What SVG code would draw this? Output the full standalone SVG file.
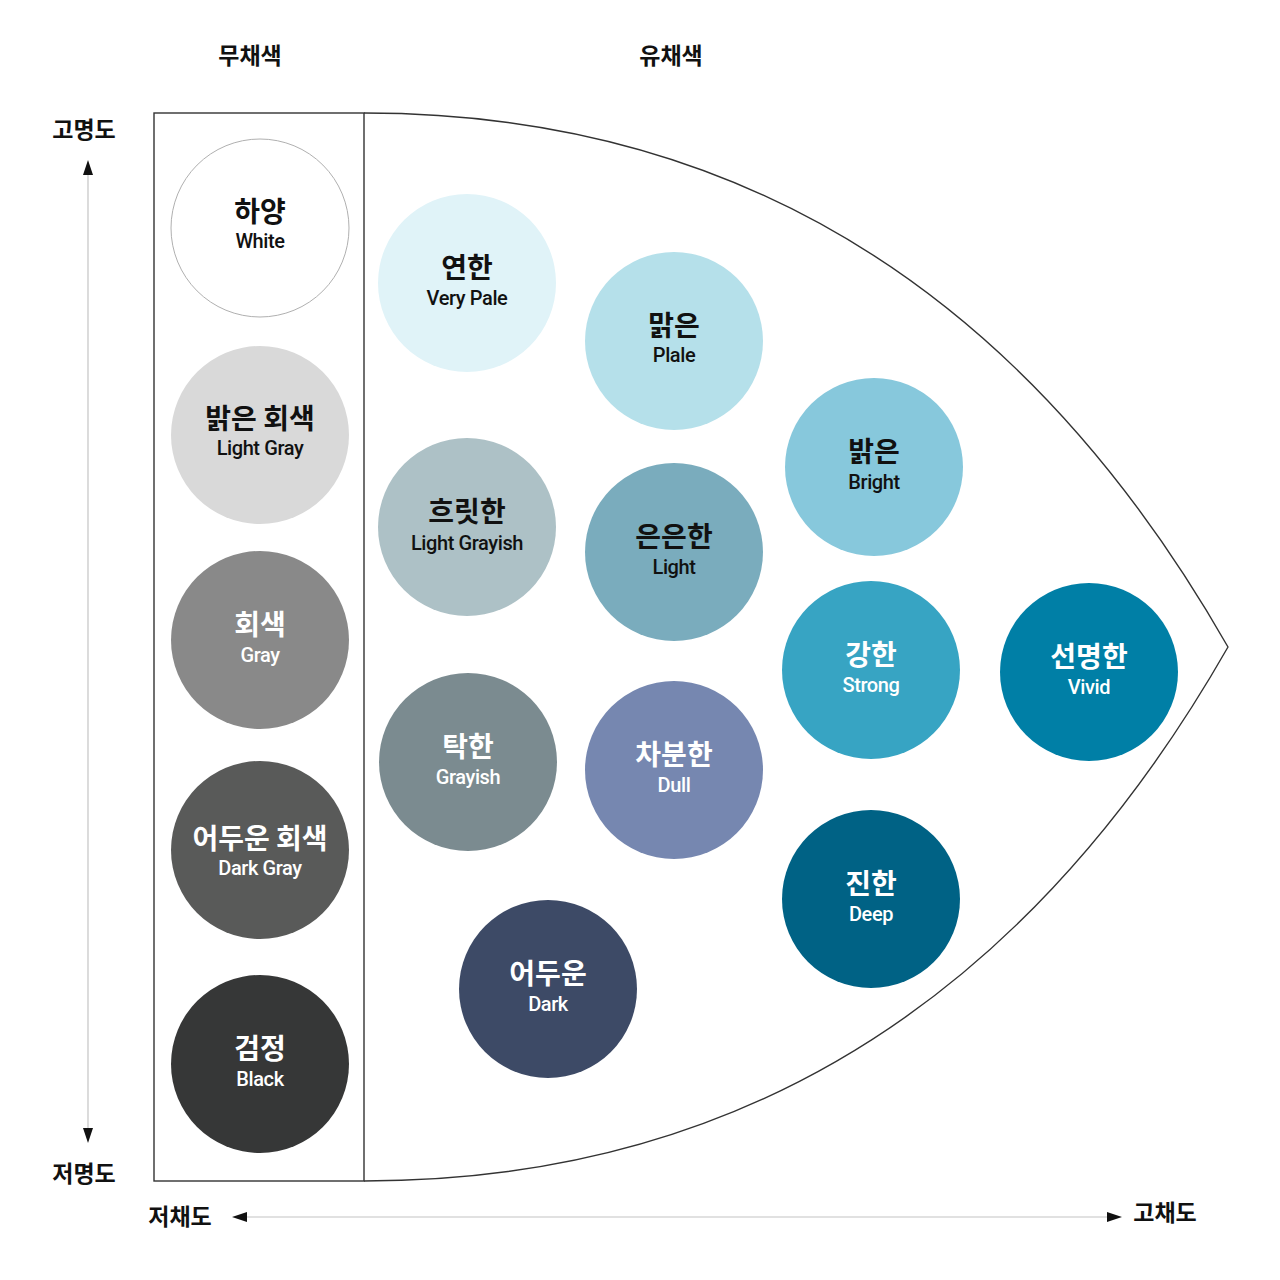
<svg xmlns="http://www.w3.org/2000/svg" width="1280" height="1280" viewBox="0 0 1280 1280">
<style>
.ko{font-family:"Noto Sans CJK KR","Noto Sans",sans-serif;font-weight:700;font-size:28px;text-anchor:middle}
.en{font-family:"Roboto","Noto Sans",sans-serif;font-weight:500;font-size:20px;letter-spacing:-0.4px;text-anchor:middle}
.lab{font-family:"Noto Sans CJK KR","Noto Sans",sans-serif;font-weight:700;font-size:23px;text-anchor:middle;fill:#111}
.dk{fill:#111}
.wh{fill:#fff}
.axis{stroke:#c4c4c4;stroke-width:1.2;fill:none}
</style>
<rect width="1280" height="1280" fill="#fff"/>
<g id="frame" fill="none" stroke="#333" stroke-width="1.4">
<rect x="154" y="113" width="210" height="1068"/>
<path d="M364,113 Q923,113 1228,647 Q923,1181 364,1181"/>
</g>
<g id="labels">
<text class="lab" x="250" y="64">무채색</text>
<text class="lab" x="671" y="64">유채색</text>
<text class="lab" x="84" y="138">고명도</text>
<text class="lab" x="84" y="1182">저명도</text>
<text class="lab" x="180" y="1225">저채도</text>
<text class="lab" x="1165" y="1221">고채도</text>
</g>
<g id="connectors">
<line class="axis" x1="88" y1="175" x2="88" y2="1130"/>
<path d="M88,160 L93,175 L83,175 z" fill="#111"/>
<path d="M88,1143 L93,1128 L83,1128 z" fill="#111"/>
<line class="axis" x1="246" y1="1217" x2="1108" y2="1217"/>
<path d="M232,1217 L247,1212 L247,1222 z" fill="#111"/>
<path d="M1122,1217 L1107,1212 L1107,1222 z" fill="#111"/>
</g>
<g id="white"><circle cx="260" cy="228" r="89" fill="#fff" stroke="#b0b0b0" stroke-width="1"/><text class="ko dk" x="260" y="222">하양</text><text class="en dk" x="260" y="248">White</text></g>
<g id="lightgray"><circle cx="260" cy="435" r="89" fill="#d9d9d9"/><text class="ko dk" x="260" y="429">밝은 회색</text><text class="en dk" x="260" y="455">Light Gray</text></g>
<g id="gray"><circle cx="260" cy="640" r="89" fill="#898989"/><text class="ko wh" x="260" y="635">회색</text><text class="en wh" x="260" y="662">Gray</text></g>
<g id="darkgray"><circle cx="260" cy="850" r="89" fill="#595a59"/><text class="ko wh" x="260" y="849">어두운 회색</text><text class="en wh" x="260" y="875">Dark Gray</text></g>
<g id="black"><circle cx="260" cy="1064" r="89" fill="#363737"/><text class="ko wh" x="260" y="1059">검정</text><text class="en wh" x="260" y="1086">Black</text></g>
<g id="verypale"><circle cx="467" cy="283" r="89" fill="#e0f3f8"/><text class="ko dk" x="467" y="278">연한</text><text class="en dk" x="467" y="305">Very Pale</text></g>
<g id="pale"><circle cx="674" cy="341" r="89" fill="#b5e0ea"/><text class="ko dk" x="674" y="336">맑은</text><text class="en dk" x="674" y="362">Plale</text></g>
<g id="bright"><circle cx="874" cy="467" r="89" fill="#87c8dc"/><text class="ko dk" x="874" y="462">밝은</text><text class="en dk" x="874" y="489">Bright</text></g>
<g id="lightgrayish"><circle cx="467" cy="527" r="89" fill="#adc1c6"/><text class="ko dk" x="467" y="522">흐릿한</text><text class="en dk" x="467" y="550">Light Grayish</text></g>
<g id="light"><circle cx="674" cy="552" r="89" fill="#7aacbd"/><text class="ko dk" x="674" y="547">은은한</text><text class="en dk" x="674" y="574">Light</text></g>
<g id="strong"><circle cx="871" cy="670" r="89" fill="#37a4c3"/><text class="ko wh" x="871" y="665">강한</text><text class="en wh" x="871" y="692">Strong</text></g>
<g id="vivid"><circle cx="1089" cy="672" r="89" fill="#007fa6"/><text class="ko wh" x="1089" y="667">선명한</text><text class="en wh" x="1089" y="694">Vivid</text></g>
<g id="grayish"><circle cx="468" cy="762" r="89" fill="#7b8b90"/><text class="ko wh" x="468" y="757">탁한</text><text class="en wh" x="468" y="784">Grayish</text></g>
<g id="dull"><circle cx="674" cy="770" r="89" fill="#7687b0"/><text class="ko wh" x="674" y="765">차분한</text><text class="en wh" x="674" y="792">Dull</text></g>
<g id="deep"><circle cx="871" cy="899" r="89" fill="#006285"/><text class="ko wh" x="871" y="894">진한</text><text class="en wh" x="871" y="921">Deep</text></g>
<g id="dark"><circle cx="548" cy="989" r="89" fill="#3d4a66"/><text class="ko wh" x="548" y="984">어두운</text><text class="en wh" x="548" y="1011">Dark</text></g>
</svg>
